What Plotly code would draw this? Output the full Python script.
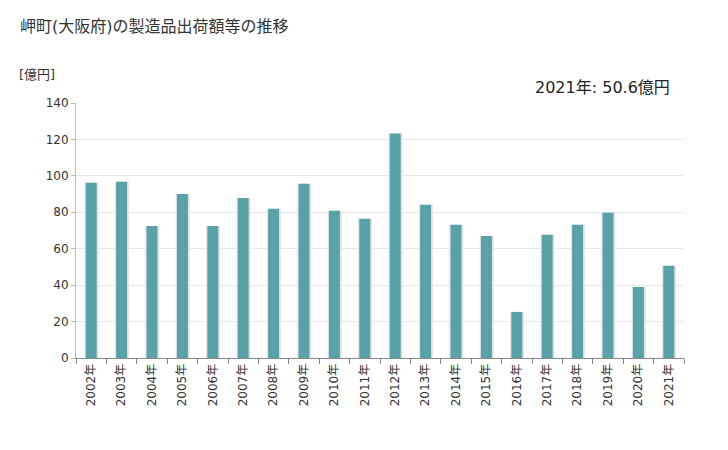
import plotly.graph_objects as go

years = [f"{y}年" for y in range(2002, 2022)]
values = [96.2, 96.7, 72.5, 90.1, 72.5, 87.9, 81.9, 95.6, 80.8, 76.4,
          123.2, 84.1, 73.1, 67.0, 25.3, 67.6, 73.1, 79.7, 39.0, 50.6]
y_ticks = [0, 20, 40, 60, 80, 100, 120, 140]

FONT = "DejaVu Sans, Noto Sans CJK JP, sans-serif"

fig = go.Figure()
# shadow
fig.add_trace(go.Bar(x=years, y=values, width=0.46, offset=-0.22,
                     marker=dict(color="#e2e2e2", line=dict(width=0)),
                     hoverinfo="skip", showlegend=False))
fig.add_trace(go.Bar(x=years, y=values, width=0.36, offset=-0.18,
                     marker=dict(color="#58a2a8", line=dict(width=0)),
                     showlegend=False))

H, W = 450, 728
pl, pr, pt, pb = 76, 44, 103, 92
pw, ph = W - pl - pr, H - pt - pb
def px(x): return (x - pl) / pw
def py(y): return (H - pb - y) / ph

fig.update_layout(
    width=W, height=H,
    margin=dict(l=pl, r=pr, t=pt, b=pb),
    plot_bgcolor="white", paper_bgcolor="white",
    barmode="overlay",
    font=dict(family=FONT, color="#333333"),
    xaxis=dict(type="category", tickangle=-90, showline=True, linecolor="#888888",
               ticks="outside", tickcolor="#888888", ticklen=5, tickson="boundaries",
               tickfont=dict(size=12, color="#333333"), showgrid=False),
    yaxis=dict(range=[0, 140], tickvals=y_ticks, showgrid=True, gridcolor="#e8e8e8",
               showline=True, linecolor="#bbbbbb", ticks="outside", tickcolor="#bbbbbb",
               ticklen=4, tickfont=dict(size=12, color="#333333"), zeroline=False),
    annotations=[
        dict(text="岬町(大阪府)の製造品出荷額等の推移", x=px(18), y=py(27),
             xref="paper", yref="paper", xanchor="left", yanchor="middle",
             showarrow=False, font=dict(size=16, color="#333333")),
        dict(text="[億円]", x=px(17), y=py(75), xref="paper", yref="paper",
             xanchor="left", yanchor="middle", showarrow=False,
             font=dict(size=13, color="#333333")),
        dict(text="2021年: 50.6億円", x=px(672), y=py(87), xref="paper", yref="paper",
             xanchor="right", yanchor="middle", showarrow=False,
             font=dict(size=16, color="#222222")),
    ],
)

fig.write_html("out.html")
